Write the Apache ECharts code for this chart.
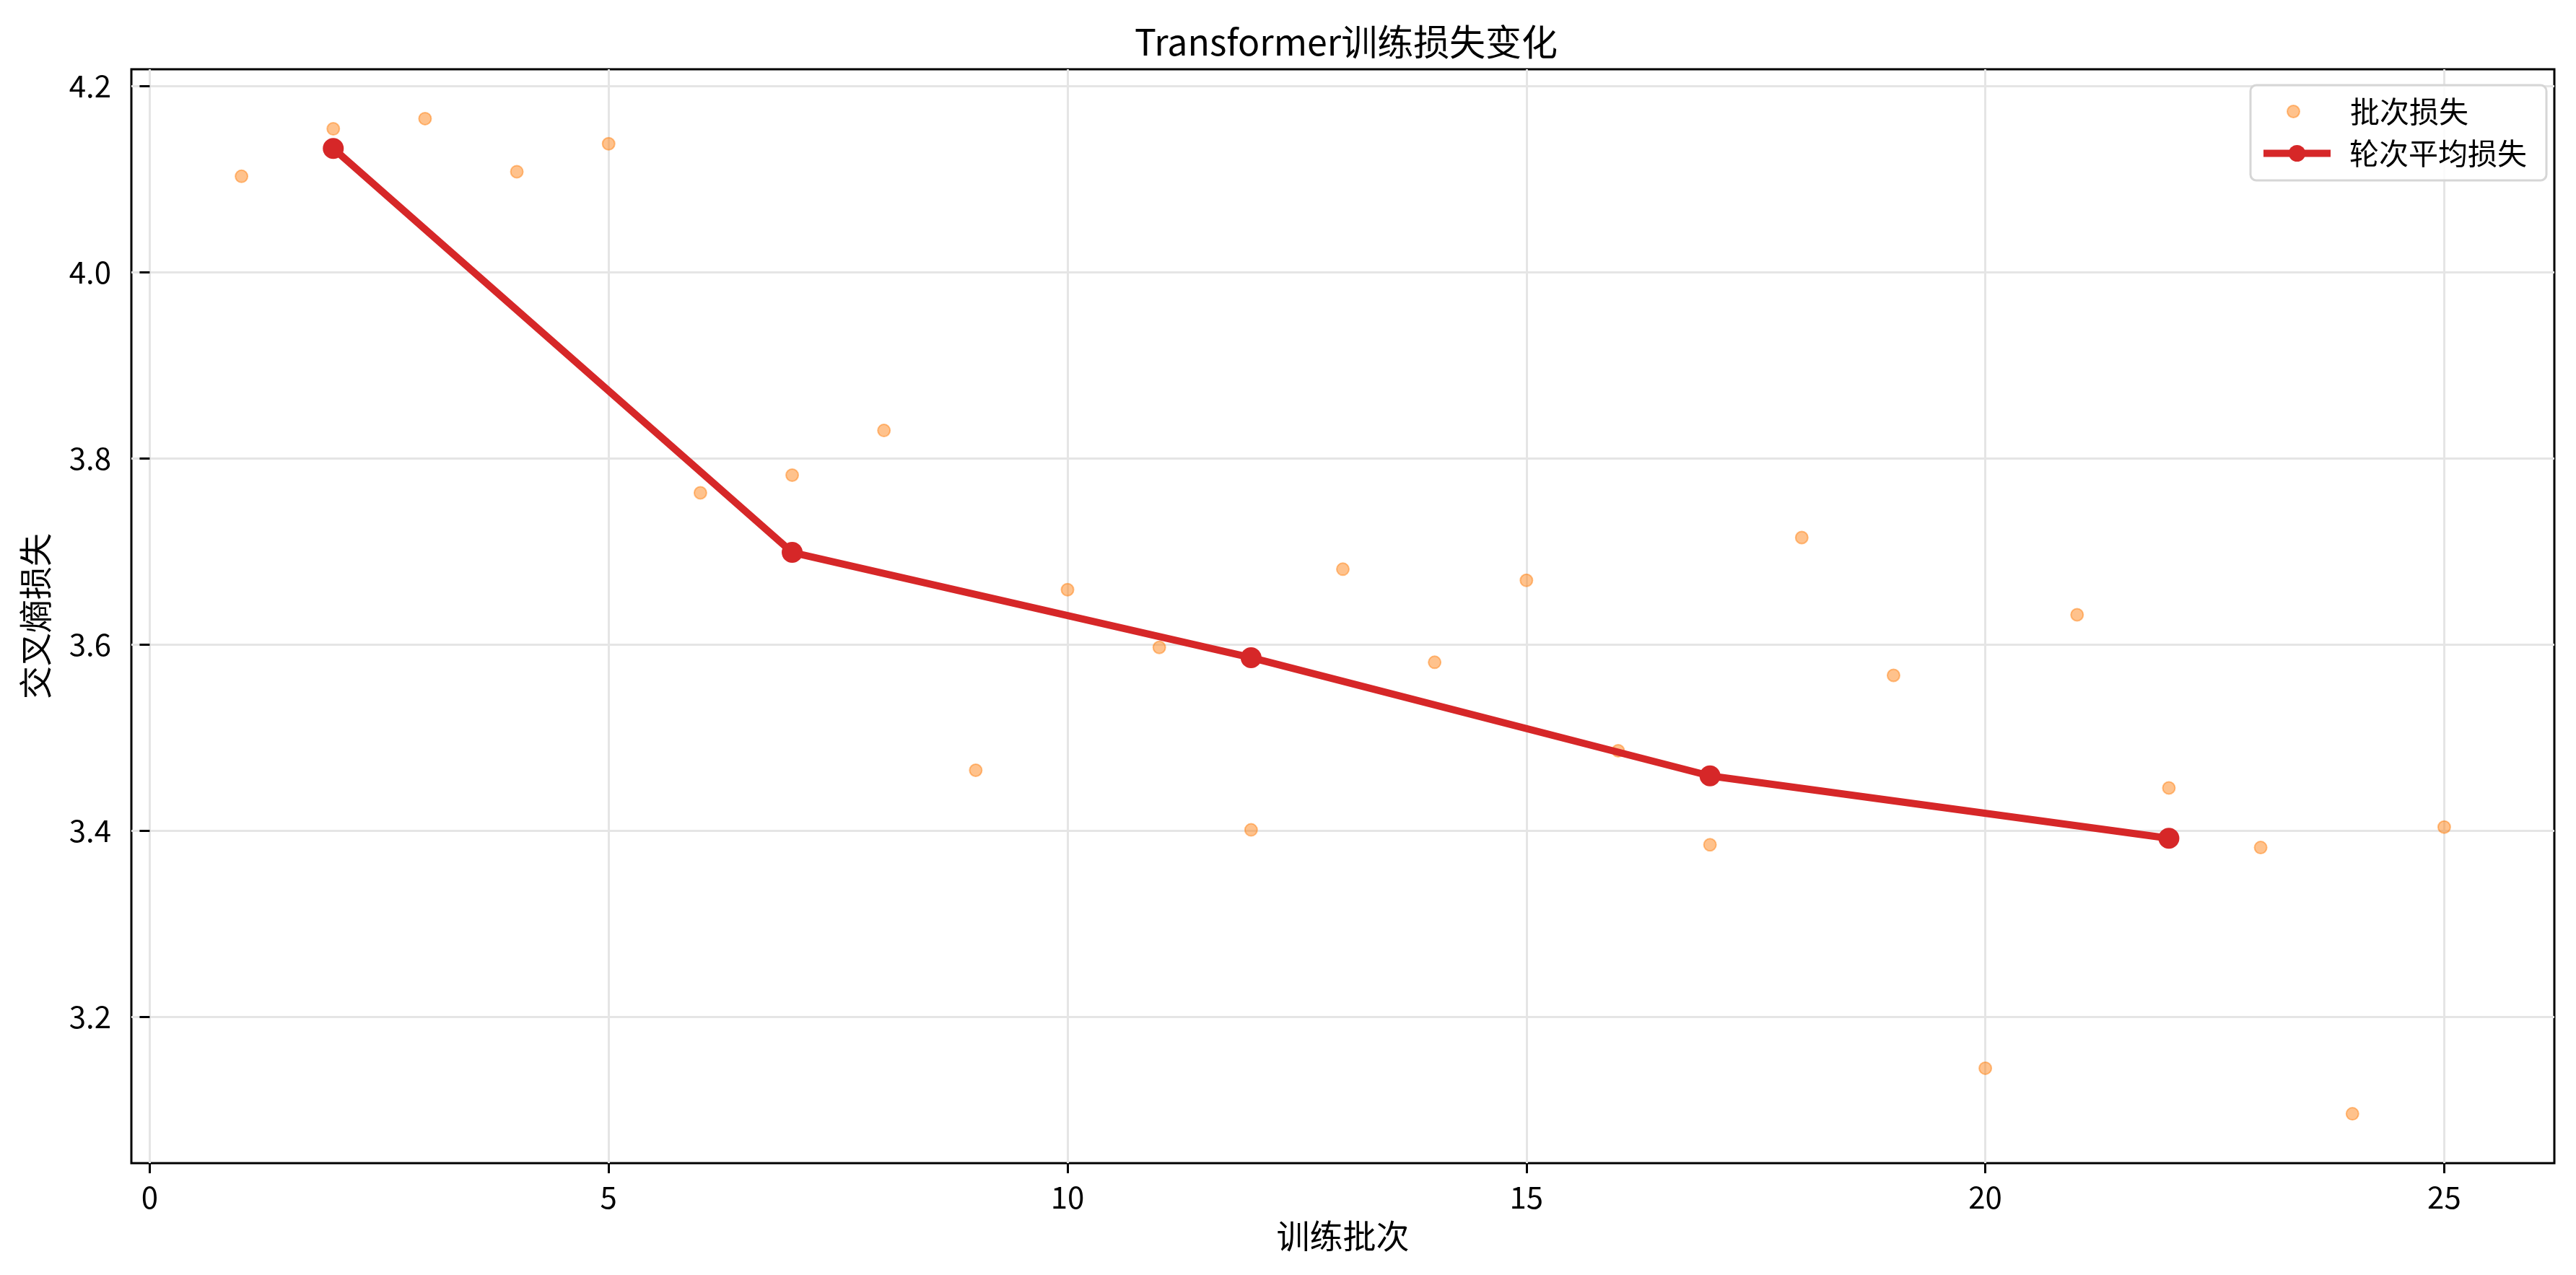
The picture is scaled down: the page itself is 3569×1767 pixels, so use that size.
<!DOCTYPE html>
<html>
<head>
<meta charset="utf-8">
<script src="https://cdn.jsdelivr.net/npm/echarts@6/dist/echarts.min.js"></script>
<style>
  html, body { margin: 0; padding: 0; background: #fff; }
  #main { width: 3569px; height: 1767px; }
</style>
</head>
<body>
<div id="main"></div>
<script>
// 批次损失（每个训练批次）
const batchIdx = [1, 2, 3, 4, 5, 6, 7, 8, 9, 10, 11, 12, 13, 14, 15, 16, 17, 18, 19, 20, 21, 22, 23, 24, 25]
const batchLoss = [4.103, 4.154, 4.165, 4.108, 4.138, 3.763, 3.782, 3.830, 3.465, 3.659,
  3.597, 3.401, 3.681, 3.581, 3.669, 3.486, 3.385, 3.715, 3.567, 3.145,
  3.632, 3.446, 3.382, 3.096, 3.404]
// 轮次平均损失
const epochIdx = [2, 7, 12, 17, 22]
const epochLoss = [4.133, 3.699, 3.586, 3.459, 3.392]
// 刻度
const xTicks = [0, 5, 10, 15, 20, 25]
const yTicks = [3.2, 3.4, 3.6, 3.8, 4.0, 4.2]

const font = '"Noto Sans CJK SC", "DejaVu Sans", sans-serif'
const orange = 'rgba(255,127,14,0.6)'
const red = '#d62728'

const chart = echarts.init(document.getElementById('main'), null, { renderer: 'canvas' })

const option = {
  backgroundColor: '#fff',
  animation: false,
  textStyle: { fontFamily: font, color: '#000' },
  title: {
    text: 'Transformer训练损失变化',
    left: 1860,
    top: 28,
    textAlign: 'center',
    textStyle: { fontFamily: font, fontSize: 50, fontWeight: 'normal', color: '#000' }
  },
  grid: {
    left: 182,
    right: 30,
    top: 96,
    bottom: 155,
    show: true,
    borderColor: '#000',
    borderWidth: 3,
    backgroundColor: 'transparent'
  },
  // 图例外框
  graphic: [{
    type: 'rect',
    z: 90,
    shape: { x: 3118, y: 118, width: 410, height: 132, r: 8 },
    style: { fill: 'rgba(255,255,255,0.85)', stroke: '#d6d6d6', lineWidth: 3 }
  }],
  legend: [
    {
      left: 3168,
      top: 134,
      padding: 0,
      itemWidth: 17,
      itemHeight: 17,
      z: 100,
      textStyle: { fontFamily: font, fontSize: 41, color: '#000', padding: [0, 0, 0, 65] },
      data: [{ name: '批次损失', icon: 'circle' }]
    },
    {
      left: 3131,
      top: 192,
      padding: 0,
      itemWidth: 93,
      itemHeight: 29,
      z: 100,
      textStyle: { fontFamily: font, fontSize: 41, color: '#000', padding: [0, 0, 0, 21] },
      data: [{ name: '轮次平均损失', lineStyle: { width: 10, color: red } }]
    }
  ],
  xAxis: {
    type: 'value',
    min: -0.2,
    max: 26.2,
    name: '训练批次',
    nameLocation: 'middle',
    nameGap: 78,
    nameTextStyle: { fontFamily: font, fontSize: 46, color: '#000' },
    axisLine: { show: false },
    axisTick: {
      show: true,
      customValues: xTicks,
      length: 14,
      lineStyle: { color: '#000', width: 3 }
    },
    axisLabel: {
      customValues: xTicks,
      fontSize: 42,
      color: '#000',
      margin: 26,
      fontFamily: font
    },
    splitLine: { show: true, lineStyle: { color: '#e5e5e5', width: 3 } }
  },
  yAxis: {
    type: 'value',
    min: 3.043,
    max: 4.218,
    name: '交叉熵损失',
    nameLocation: 'middle',
    nameGap: 110,
    nameTextStyle: { fontFamily: font, fontSize: 46, color: '#000' },
    axisLine: { show: false },
    axisTick: {
      show: true,
      customValues: yTicks,
      length: 14,
      lineStyle: { color: '#000', width: 3 }
    },
    axisLabel: {
      customValues: yTicks,
      fontSize: 42,
      color: '#000',
      margin: 28,
      fontFamily: font,
      formatter: (v) => v.toFixed(1)
    },
    splitLine: { show: true, lineStyle: { color: '#e5e5e5', width: 3 } }
  },
  series: [
    {
      name: '批次损失',
      type: 'scatter',
      symbol: 'circle',
      symbolSize: 17,
      itemStyle: {
        color: orange,
        borderColor: orange,
        borderWidth: 2
      },
      z: 2,
      data: batchIdx.map((x, i) => [x, batchLoss[i]])
    },
    {
      name: '轮次平均损失',
      type: 'line',
      symbol: 'circle',
      symbolSize: 29,
      showSymbol: true,
      lineStyle: { color: red, width: 10 },
      itemStyle: { color: red },
      z: 3,
      data: epochIdx.map((x, i) => [x, epochLoss[i]])
    }
  ]
}

option && chart.setOption(option)
</script>
</body>
</html>
